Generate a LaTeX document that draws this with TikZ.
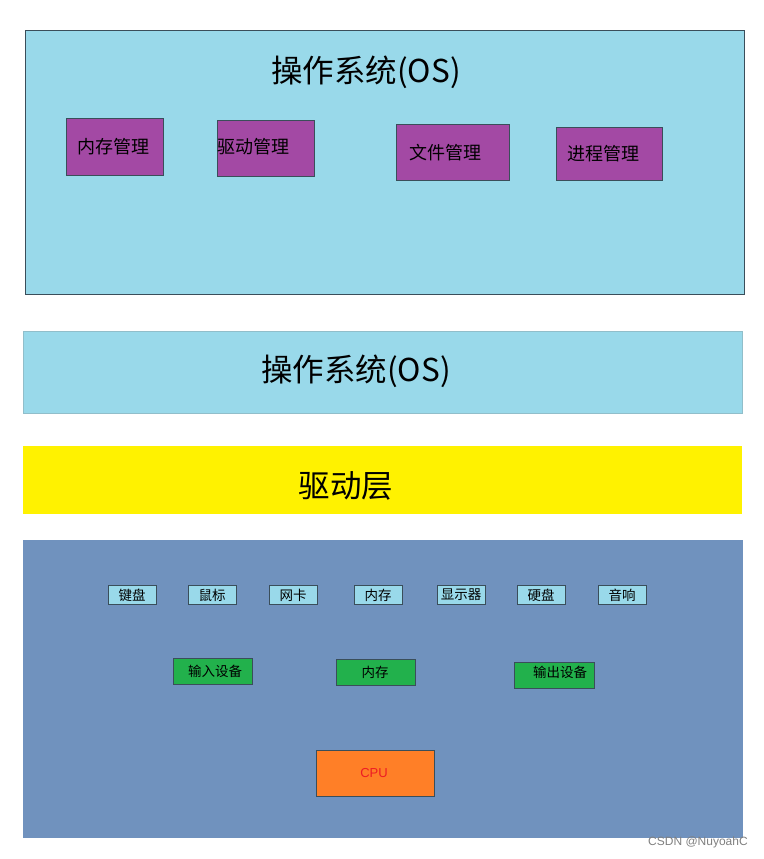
\documentclass[tikz,border=0pt]{standalone}
\usepackage{fontspec}
\setmainfont{Noto Sans CJK SC}
\setsansfont{Liberation Sans}
\definecolor{oscyan}{HTML}{99D9EA}
\definecolor{ospurple}{HTML}{A349A4}
\definecolor{osyellow}{HTML}{FFF200}
\definecolor{osblue}{HTML}{7092BE}
\definecolor{osgreen}{HTML}{22B14C}
\definecolor{osorange}{HTML}{FF7F27}
\definecolor{osred}{HTML}{ED1C24}
\definecolor{osedge}{HTML}{3A4E5A}
\begin{document}
\begin{tikzpicture}[x=1pt,y=-1pt,
  panel/.style={fill=oscyan,draw=osedge,line width=0.6pt},
  mgr/.style={fill=ospurple,draw=osedge,line width=0.6pt},
  dev/.style={fill=oscyan,draw=osedge,line width=0.6pt},
  grp/.style={fill=osgreen,draw=osedge,line width=0.6pt},
  big/.style={font=\fontsize{31.5}{36}\selectfont,inner sep=0pt},
  mid/.style={font=\fontsize{18}{21}\selectfont,inner sep=0pt},
  small/.style={font=\fontsize{13.5}{16}\selectfont,inner sep=0pt}]
\useasboundingbox (0,0) rectangle (763,859);
\fill[white] (0,0) rectangle (763,859);
% top OS panel
\draw[panel] (25,30) rectangle (744,294);
\node[big] (os1) at (366,72) {操作系统(OS)};
\draw[mgr] (66,118) rectangle (163,175);
\node[mid,anchor=west] (m1) at (77,147) {内存管理};
\draw[mgr] (217,120) rectangle (314,176);
\node[mid,anchor=west] (m2) at (217,147) {驱动管理};
\draw[mgr] (396,124) rectangle (509,180);
\node[mid,anchor=west] (m3) at (409,153) {文件管理};
\draw[mgr] (556,127) rectangle (662,180);
\node[mid,anchor=west] (m4) at (567,154) {进程管理};
% second OS band
\draw[fill=oscyan,draw=oscyan!70!gray,line width=0.6pt] (23,331) rectangle (742,413);
\node[big] (os2) at (356,371) {操作系统(OS)};
% driver layer
\fill[osyellow] (23,446) rectangle (742,514);
\node[big] (drv) at (346,486) {驱动层};
% hardware
\fill[osblue] (23,540) rectangle (743,838);
\foreach \x/\t/\n in {108/键盘/d1,188/鼠标/d2,269/网卡/d3,354/内存/d4,437/显示器/d5,517/硬盘/d6,598/音响/d7}{
  \draw[dev] (\x,585) rectangle ++(48,19);
  \node[small] (\n) at (\x+24,595) {\t};
}
\draw[grp] (173,658) rectangle (252,684);
\node[small] (g1) at (215,671) {输入设备};
\draw[grp] (336,659) rectangle (415,685);
\node[small] (g2) at (375,672) {内存};
\draw[grp] (514,662) rectangle (594,688);
\node[small] (g3) at (560,672) {输出设备};
\draw[fill=osorange,draw=osedge,line width=0.6pt] (316,750) rectangle (434,796);
\node[inner sep=0pt,text=osred,font=\sffamily\fontsize{13}{15}\selectfont] (cpu) at (374,773) {CPU};
\node[inner sep=0pt,text=gray,font=\sffamily\fontsize{12}{14}\selectfont] (wm) at (698,842) {CSDN @NuyoahC};
\end{tikzpicture}
\end{document}
